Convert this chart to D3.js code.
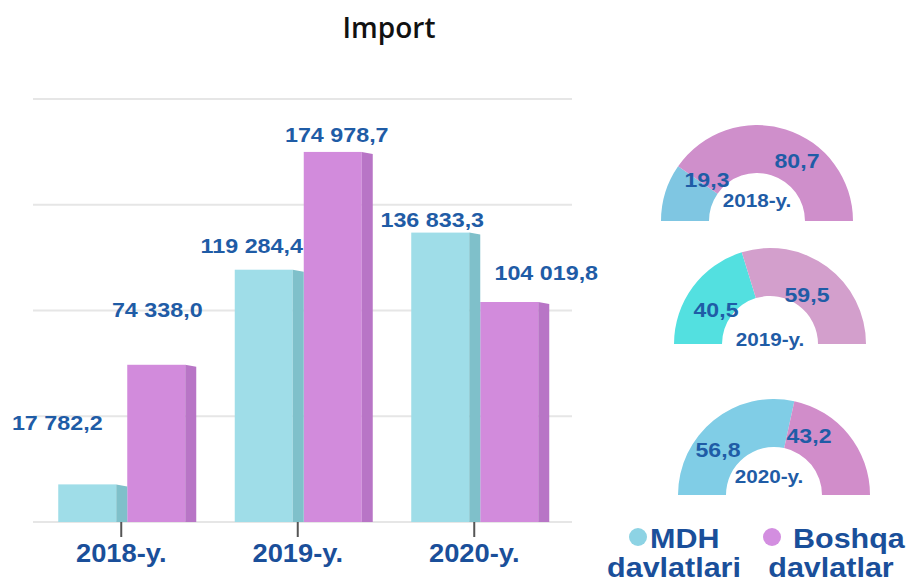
<!DOCTYPE html>
<html>
<head>
<meta charset="utf-8">
<script src="https://cdn.jsdelivr.net/npm/d3@7"></script>
<style>
  body { margin: 0; background: #fff; }
  svg { display: block; }
  .val { font-family: "Liberation Sans", Arial, sans-serif; font-weight: bold; fill: #1f5ca6; }
</style>
</head>
<body>
<div id="chart"></div>
<script>
// data
var years = ["2018-y.", "2019-y.", "2020-y."];
var series = ["MDH", "Boshqa"];
var mdhValues = [17782.2, 119284.4, 136833.3];
var boshqaValues = [74338.0, 174978.7, 104019.8];
var mdhLabels = ["17 782,2", "119 284,4", "136 833,3"];
var boshqaLabels = ["74 338,0", "174 978,7", "104 019,8"];
var mdhShare = [19.3, 40.5, 56.8];
var boshqaShare = [80.7, 59.5, 43.2];
var mdhShareLabels = ["19,3", "40,5", "56,8"];
var boshqaShareLabels = ["80,7", "59,5", "43,2"];
var yTicks = [0, 50000, 100000, 150000, 200000];
var legendLines = [["MDH", "davlatlari"], ["Boshqa", "davlatlar"]];

// label nudges (layout only) relative to bar front centre / top
var barLabelNudge = {
  MDH: [[-30, -54], [-12, -17], [-8, -6]],
  Boshqa: [[1, -48], [4, -10], [37, -22]]
};

// donut layout
var donutCenters = [[757, 221], [770, 344], [774, 495]];
var donutColors = [["#7fc6e2", "#cf8fcb"], ["#53e0e0", "#d39fcc"], ["#80cde6", "#d18dca"]];
var donutLabelNudge = [
  [[-50, -34], [40, -53], [0, -14]],
  [[-54, -27], [37, -42], [0, 2]],
  [[-56, -38], [35, -52], [-5, -12]]
];

var W = 910, H = 587;
var svg = d3.select("#chart").append("svg").attr("width", W).attr("height", H);

// title
svg.append("text")
  .attr("x", 389).attr("y", 38)
  .attr("text-anchor", "middle")
  .style("font-family", "'Open Sans', sans-serif")
  .style("font-size", "28px")
  .style("font-weight", 600)
  .style("fill", "#111")
  .text("Import");

// stretched bold text helper (reference text is a bit wide)
function wideText(g, x, y, txt, size, sx, anchor, color) {
  return g.append("text")
    .attr("class", "val")
    .attr("transform", `translate(${x},${y}) scale(${sx},1)`)
    .attr("text-anchor", anchor || "middle")
    .style("font-size", size + "px")
    .style("fill", color || "#1f5ca6")
    .text(txt);
}

// scales
var y = d3.scaleLinear().domain([0, 200000]).range([522, 99]);
var x0 = d3.scaleBand().domain(years).range([33, 562.5]).padding(0);
var x1 = d3.scaleBand().domain(series).range([-63, 75]).padding(0);
var depth = 11;

// gridlines
svg.append("g").selectAll("line")
  .data(yTicks).enter().append("line")
  .attr("x1", 33).attr("x2", 572)
  .attr("y1", d => y(d)).attr("y2", d => y(d))
  .attr("stroke", "#e6e6e6").attr("stroke-width", 2);

// x axis ticks
var xAxis = svg.append("g")
  .attr("transform", "translate(0,522)")
  .call(d3.axisBottom(x0).tickSize(15).tickFormat(""));
xAxis.select(".domain").remove();
xAxis.selectAll("line").attr("stroke", "#555").attr("stroke-width", 2);

var barColors = {
  MDH: ["#9fdde8", "#7fc0ca"],
  Boshqa: ["#d28bdc", "#b875c6"]
};

var rows = [];
years.forEach(function(yr, i) {
  rows.push({year: yr, s: "MDH", v: mdhValues[i], lab: mdhLabels[i], n: barLabelNudge.MDH[i]});
  rows.push({year: yr, s: "Boshqa", v: boshqaValues[i], lab: boshqaLabels[i], n: barLabelNudge.Boshqa[i]});
});

var center = d => x0(d.year) + x0.bandwidth() / 2;

var bars = svg.append("g");
// front faces
bars.selectAll("rect.front").data(rows).enter().append("rect")
  .attr("class", "front")
  .attr("x", d => center(d) + x1(d.s))
  .attr("y", d => y(d.v))
  .attr("width", x1.bandwidth() - depth)
  .attr("height", d => y(0) - y(d.v))
  .attr("fill", d => barColors[d.s][0]);
// side faces
bars.selectAll("path.side").data(rows).enter().append("path")
  .attr("class", "side")
  .attr("d", function(d) {
    var xl = center(d) + x1(d.s) + x1.bandwidth() - depth;
    var top = y(d.v);
    return `M${xl},${top}L${xl + depth},${top + 2}L${xl + depth},${y(0)}L${xl},${y(0)}Z`;
  })
  .attr("fill", d => barColors[d.s][1]);

// value labels
rows.forEach(function(d) {
  var fx = center(d) + x1(d.s) + (x1.bandwidth() - depth) / 2;
  wideText(svg, fx + d.n[0], y(d.v) + d.n[1], d.lab, 21, 1.11);
});

// category labels
years.forEach(function(yr) {
  wideText(svg, x0(yr) + x0.bandwidth() / 2, 562, yr, 26, 1.05, "middle", "#1a4f9a");
});

// donuts
var pie = d3.pie().sort(null).startAngle(-Math.PI / 2).endAngle(Math.PI / 2);
var arc = d3.arc().innerRadius(48).outerRadius(96);

years.forEach(function(yr, i) {
  var g = svg.append("g").attr("transform", `translate(${donutCenters[i][0]},${donutCenters[i][1]})`);
  g.selectAll("path")
    .data(pie([mdhShare[i], boshqaShare[i]]))
    .enter().append("path")
    .attr("d", arc)
    .attr("fill", (d, j) => donutColors[i][j]);
  var nd = donutLabelNudge[i];
  wideText(g, nd[0][0], nd[0][1], mdhShareLabels[i], 21, 1.1);
  wideText(g, nd[1][0], nd[1][1], boshqaShareLabels[i], 21, 1.1);
  wideText(g, nd[2][0], nd[2][1], yr, 18, 1.15);
});

// legend
var legendColors = ["#8dd3e4", "#d38ee0"];
var legendDots = [[638, 537], [772, 537]];
var legendFirst = [[650, 548, "start"], [793, 548, "start"]];
var legendSecond = [[674, 577], [831, 577]];
legendLines.forEach(function(lines, i) {
  svg.append("circle")
    .attr("cx", legendDots[i][0]).attr("cy", legendDots[i][1]).attr("r", 9)
    .attr("fill", legendColors[i]);
  wideText(svg, legendFirst[i][0], legendFirst[i][1], lines[0], 27, 1.13, "start", "#1a4f9a");
  wideText(svg, legendSecond[i][0], legendSecond[i][1], lines[1], 27, 1.13, "middle", "#1a4f9a");
});
</script>
</body>
</html>
